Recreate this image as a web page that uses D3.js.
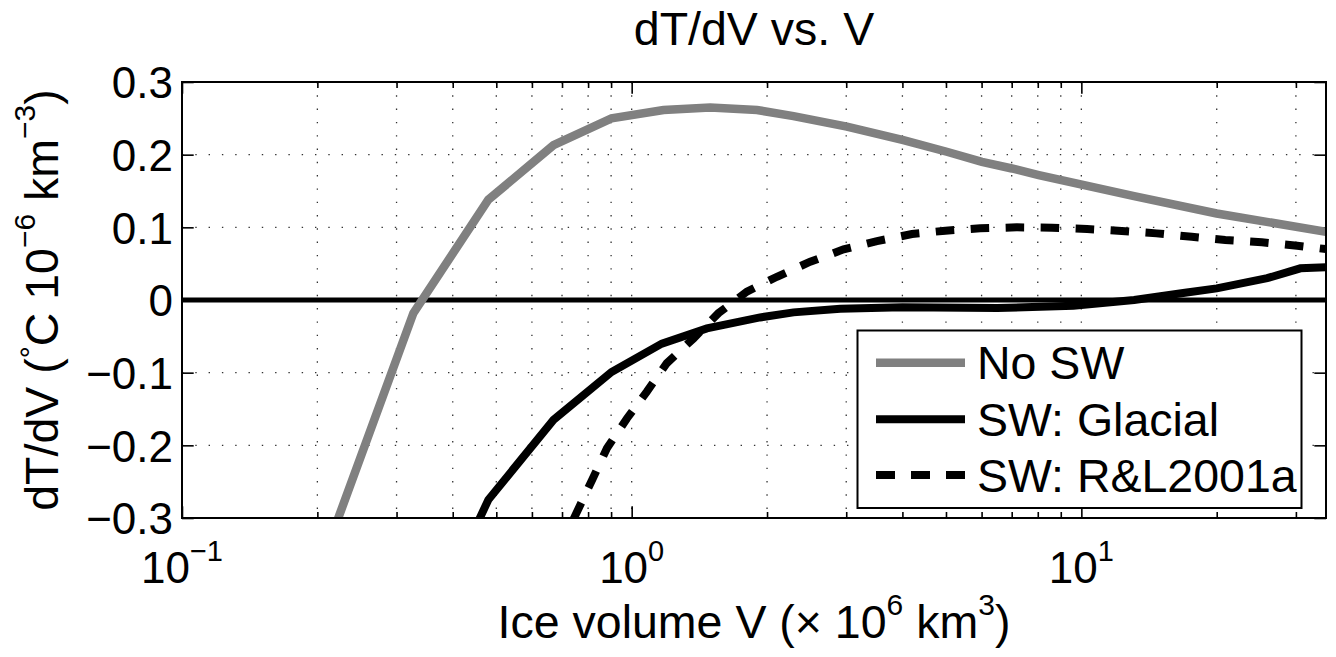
<!DOCTYPE html>
<html>
<head>
<meta charset="utf-8">
<script src="https://cdn.jsdelivr.net/npm/d3@7"></script>
<style>
  html, body { margin: 0; padding: 0; background: #fff; }
  svg { display: block; }
  text { font-family: "Liberation Sans", Arial, Helvetica, sans-serif; fill: #000; }
</style>
</head>
<body>
<svg id="chart" width="1336" height="657"></svg>
<script>
// ---------------- data ----------------
const noSW_V      = [0.222, 0.327, 0.480, 0.670, 0.902, 1.177, 1.495, 1.90, 2.29, 3.01, 4.02, 5.02, 6.01, 7.01, 8.04, 13.1, 20.0, 35.0];
const noSW_dTdV   = [-0.302, -0.018, 0.138, 0.213, 0.250, 0.2615, 0.265, 0.2615, 0.253, 0.2385, 0.220, 0.204, 0.190, 0.181, 0.172, 0.143, 0.119, 0.094];

const glacial_V    = [0.458, 0.480, 0.670, 0.902, 1.167, 1.47, 1.93, 2.29, 2.91, 4.0, 6.5, 9.6, 13.1, 17.0, 20.0, 25.9, 30.7, 35.0];
const glacial_dTdV = [-0.302, -0.275, -0.165, -0.099, -0.060, -0.039, -0.024, -0.017, -0.012, -0.010, -0.011, -0.008, 0.000, 0.010, 0.016, 0.030, 0.0436, 0.045];

const rl_V    = [0.742, 0.816, 0.881, 0.976, 1.081, 1.197, 1.372, 1.560, 1.804, 2.104, 2.495, 2.960, 3.512, 4.201, 4.984, 5.96, 7.19, 8.61, 10.3, 12.3, 14.7, 17.6, 20.9, 25.2, 30.2, 35.0];
const rl_dTdV = [-0.302, -0.248, -0.204, -0.163, -0.126, -0.087, -0.053, -0.018, 0.0115, 0.032, 0.0527, 0.0697, 0.081, 0.0908, 0.0954, 0.0986, 0.100, 0.0995, 0.0977, 0.095, 0.0917, 0.087, 0.0826, 0.0794, 0.0747, 0.070];

const seriesNames = ["No SW", "SW: Glacial", "SW: R&L2001a"];

const xMajorTicks   = [0.1, 1, 10];
const xMajorExps    = ["\u22121", "0", "1"];
const xMinorTicks   = [0.2, 0.3, 0.4, 0.5, 0.6, 0.7, 0.8, 0.9, 2, 3, 4, 5, 6, 7, 8, 9, 20, 30];
const yTicks        = [-0.3, -0.2, -0.1, 0, 0.1, 0.2, 0.3];
const yTickLabels   = ["\u22120.3", "\u22120.2", "\u22120.1", "0", "0.1", "0.2", "0.3"];

const titleText = "dT/dV vs. V";

// ---------------- layout ----------------
const L = 182, R = 1326, T = 82, B = 518;
const FS = 44, SUP = 29;      // tick labels
const FL = 46.5, SUPL = 30;   // title, axis labels, legend
const svg = d3.select("#chart");

const x = d3.scaleLog().domain([0.1, 35]).range([L, R]);
const y = d3.scaleLinear().domain([-0.3, 0.3]).range([B, T]);

svg.append("defs").append("clipPath").attr("id", "clip")
  .append("rect").attr("x", L).attr("y", T).attr("width", R - L).attr("height", B - T);

// grid
const grid = svg.append("g").attr("stroke", "#333").attr("stroke-width", 1.3)
  .attr("stroke-dasharray", "1.4 11.9");
grid.selectAll("line.vx").data(xMajorTicks.concat(xMinorTicks)).join("line")
  .attr("x1", d => x(d)).attr("x2", d => x(d)).attr("y1", T).attr("y2", B);
grid.selectAll("line.hy").data(yTicks).join("line")
  .attr("class", "hy")
  .attr("x1", L).attr("x2", R).attr("y1", d => y(d)).attr("y2", d => y(d));

// ticks (inside, all four sides) via d3 axes
function styleAxis(g) {
  g.select(".domain").remove();
  g.selectAll(".tick line").attr("stroke", "#000").attr("stroke-width", 1.6);
}
svg.append("g").attr("transform", `translate(0,${B})`)
  .call(d3.axisBottom(x).tickValues(xMajorTicks).tickSize(-11.7).tickFormat("")).call(styleAxis);
svg.append("g").attr("transform", `translate(0,${B})`)
  .call(d3.axisBottom(x).tickValues(xMinorTicks).tickSize(-6).tickFormat("")).call(styleAxis);
svg.append("g").attr("transform", `translate(0,${T})`)
  .call(d3.axisTop(x).tickValues(xMajorTicks).tickSize(-11.7).tickFormat("")).call(styleAxis);
svg.append("g").attr("transform", `translate(0,${T})`)
  .call(d3.axisTop(x).tickValues(xMinorTicks).tickSize(-6).tickFormat("")).call(styleAxis);
svg.append("g").attr("transform", `translate(${R},0)`)
  .call(d3.axisRight(y).tickValues(yTicks).tickSize(-11.7).tickFormat("")).call(styleAxis);
const yAxisG = svg.append("g").attr("transform", `translate(${L},0)`)
  .call(d3.axisLeft(y).tickValues(yTicks).tickSize(-11.7).tickPadding(9)
        .tickFormat((d, i) => yTickLabels[i]))
  .call(styleAxis);
yAxisG.attr("font-size", null).attr("font-family", null);
yAxisG.selectAll(".tick text").attr("font-size", FS).attr("dy", "0.36em")
  .style("font-family", '"Liberation Sans", Arial, Helvetica, sans-serif').attr("fill", "#000");

// x tick labels with superscripts
const xl = svg.append("g");
xMajorTicks.forEach((v, i) => {
  const t = xl.append("text").attr("x", x(v)).attr("y", B + 65)
    .attr("text-anchor", "middle").attr("font-size", FS);
  t.append("tspan").text("10");
  t.append("tspan").attr("font-size", SUP).attr("dy", -22).text(xMajorExps[i]);
});

// data lines
const line = d3.line().x(d => x(d[0])).y(d => y(d[1]));
const plot = svg.append("g").attr("clip-path", "url(#clip)");

plot.append("line").attr("x1", L).attr("x2", R).attr("y1", y(0)).attr("y2", y(0))
  .attr("stroke", "#000").attr("stroke-width", 5);

const series = [
  { V: noSW_V, D: noSW_dTdV, color: "#808080", width: 8.5, dash: null },
  { V: glacial_V, D: glacial_dTdV, color: "#000", width: 8, dash: null },
  { V: rl_V, D: rl_dTdV, color: "#000", width: 8, dash: "18.5 16.5" }
];
series.forEach(s => {
  plot.append("path").datum(s.V.map((v, i) => [v, s.D[i]]))
    .attr("d", line).attr("fill", "none").attr("stroke", s.color)
    .attr("stroke-width", s.width).attr("stroke-linejoin", "miter")
    .attr("stroke-dasharray", s.dash);
});

// axes box
svg.append("rect").attr("x", L).attr("y", T).attr("width", R - L).attr("height", B - T)
  .attr("fill", "none").attr("stroke", "#000").attr("stroke-width", 2);

// legend
const lg = svg.append("g");
lg.append("rect").attr("x", 857.5).attr("y", 330.5).attr("width", 444).attr("height", 177.5)
  .attr("fill", "#fff").attr("stroke", "#000").attr("stroke-width", 2);
const rowsY = [362.7, 419.3, 475];
series.forEach((s, i) => {
  lg.append("line").attr("x1", 876).attr("x2", 965).attr("y1", rowsY[i]).attr("y2", rowsY[i])
    .attr("stroke", s.color).attr("stroke-width", s.width).attr("stroke-dasharray", s.dash ? "19 16" : null);
  lg.append("text").attr("x", 977).attr("y", rowsY[i]).attr("dy", "0.36em")
    .attr("font-size", FL).text(seriesNames[i]);
});

// title
svg.append("text").attr("x", (L + R) / 2).attr("y", 45).attr("text-anchor", "middle")
  .attr("font-size", FL).text(titleText);

// x label
const xlab = svg.append("text").attr("x", (L + R) / 2).attr("y", 638)
  .attr("text-anchor", "middle").attr("font-size", FL);
xlab.append("tspan").text("Ice volume V (\u00d7 10");
xlab.append("tspan").attr("font-size", SUPL).attr("dy", -23).text("6");
xlab.append("tspan").attr("dy", 23).text(" km");
xlab.append("tspan").attr("font-size", SUPL).attr("dy", -23).text("3");
xlab.append("tspan").attr("dy", 23).text(")");

// y label
const ylab = svg.append("text").attr("transform", `translate(58,${(T + B) / 2}) rotate(-90)`)
  .attr("text-anchor", "middle").attr("font-size", FL);
ylab.append("tspan").text("dT/dV (");
ylab.append("tspan").attr("font-size", SUPL).attr("dy", -17).text("\u00b0");
ylab.append("tspan").attr("dy", 17).text("C 10");
ylab.append("tspan").attr("font-size", SUPL).attr("dy", -23).text("\u22126");
ylab.append("tspan").attr("dy", 23).text(" km");
ylab.append("tspan").attr("font-size", SUPL).attr("dy", -23).text("\u22123");
ylab.append("tspan").attr("dy", 23).text(")");
</script>
</body>
</html>
